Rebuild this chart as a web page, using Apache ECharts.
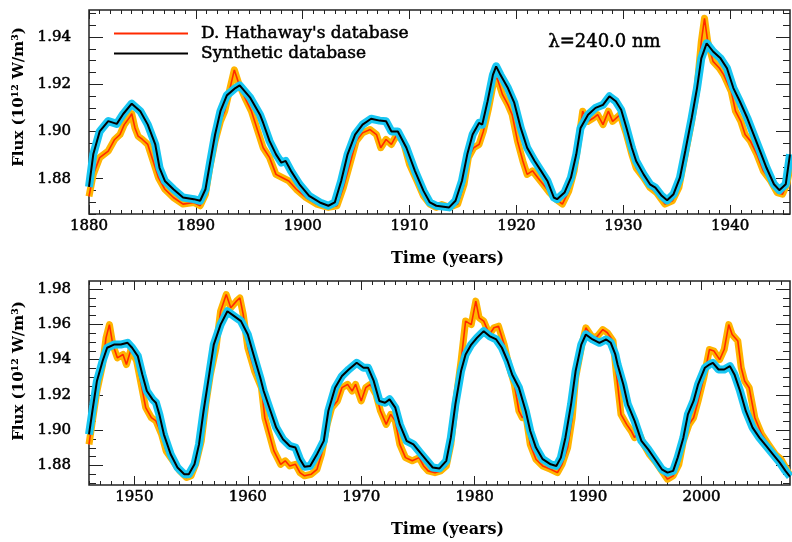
<!DOCTYPE html>
<html>
<head>
<meta charset="utf-8">
<script src="https://cdn.jsdelivr.net/npm/echarts@6/dist/echarts.min.js"></script>
<style>
  html, body { margin: 0; padding: 0; background: #fff; }
  #main { width: 792px; height: 542px; }
</style>
</head>
<body>
<div id="main"></div>
<script>
// ---- data ----
// top panel, D. Hathaway's database (red)
var hathTopT = [1880.0,1880.4,1881.0,1881.8,1882.4,1882.9,1883.3,1883.8,1884.0,1884.3,1884.6,1885.0,1885.5,1886.0,1886.5,1887.1,1887.9,1888.8,1889.8,1890.4,1890.9,1891.3,1891.8,1892.3,1892.7,1893.2,1893.6,1894.0,1894.6,1895.2,1895.9,1896.3,1896.9,1897.5,1898.1,1898.7,1899.4,1900.3,1901.3,1902.4,1903.2,1903.8,1904.4,1905.0,1905.6,1906.3,1906.9,1907.3,1907.8,1908.3,1908.8,1909.4,1910.0,1910.7,1911.3,1911.9,1912.5,1913.0,1913.7,1914.5,1915.1,1915.5,1916.0,1916.5,1916.9,1917.4,1917.9,1918.2,1918.7,1919.2,1919.6,1920.1,1920.6,1921.0,1921.5,1922.0,1922.5,1923.1,1923.7,1924.3,1924.9,1925.4,1925.9,1926.2,1926.7,1927.2,1927.6,1928.1,1928.6,1929.0,1929.7,1930.3,1930.8,1931.2,1931.9,1932.5,1933.1,1933.9,1934.6,1935.2,1935.8,1936.4,1936.9,1937.3,1937.6,1937.9,1938.4,1939.0,1939.4,1940.1,1940.5,1941.0,1941.4,1941.9,1942.5,1943.1,1943.8,1944.4,1944.9,1945.3,1945.6];
var hathTopF = [1.8725,1.8818,1.8889,1.8917,1.8966,1.8987,1.9029,1.9060,1.9075,1.9015,1.8980,1.8966,1.8945,1.8875,1.8804,1.8755,1.8720,1.8692,1.8699,1.8685,1.8734,1.8846,1.8959,1.9043,1.9086,1.9184,1.9261,1.9205,1.9142,1.9086,1.8987,1.8931,1.8889,1.8818,1.8804,1.8790,1.8755,1.8720,1.8692,1.8678,1.8685,1.8762,1.8860,1.8959,1.8994,1.9008,1.8987,1.8931,1.8966,1.8945,1.8987,1.8959,1.8860,1.8790,1.8727,1.8692,1.8678,1.8690,1.8678,1.8692,1.8776,1.8889,1.8931,1.8945,1.9000,1.9100,1.9219,1.9226,1.9156,1.9114,1.9071,1.8959,1.8875,1.8818,1.8833,1.8804,1.8776,1.8741,1.8713,1.8692,1.8748,1.8833,1.8987,1.9086,1.9043,1.9057,1.9071,1.9029,1.9086,1.9043,1.9071,1.8987,1.8903,1.8846,1.8804,1.8762,1.8741,1.8692,1.8706,1.8762,1.8903,1.9043,1.9184,1.9381,1.9480,1.9381,1.9297,1.9268,1.9240,1.9170,1.9086,1.9043,1.8987,1.8959,1.8903,1.8833,1.8790,1.8741,1.8734,1.8776,1.8846];
// top panel, synthetic database (black)
var synTopT = [1880.0,1880.4,1881.0,1881.8,1882.6,1883.2,1884.0,1884.8,1885.5,1886.2,1886.6,1887.1,1887.9,1888.8,1889.8,1890.4,1890.9,1891.3,1891.8,1892.3,1892.9,1893.7,1894.1,1895.1,1896.0,1896.3,1896.9,1897.5,1898.0,1898.4,1898.9,1899.7,1900.6,1901.6,1902.4,1903.0,1903.6,1904.2,1904.9,1905.6,1906.4,1907.2,1907.8,1908.3,1908.9,1909.7,1910.5,1911.3,1911.9,1912.5,1913.7,1914.3,1914.9,1915.4,1915.9,1916.5,1916.8,1917.3,1917.8,1918.1,1918.5,1919.2,1919.8,1920.4,1921.0,1921.7,1922.3,1922.9,1923.5,1923.8,1924.5,1925.1,1925.6,1926.0,1926.7,1927.4,1928.1,1928.7,1929.3,1929.8,1930.3,1930.8,1931.2,1931.9,1932.5,1933.0,1933.6,1934.1,1934.7,1935.3,1935.8,1936.4,1936.9,1937.3,1937.8,1938.4,1939.1,1939.7,1940.3,1940.9,1941.6,1942.2,1942.8,1943.4,1944.1,1944.6,1945.2,1945.6];
var synTopF = [1.8765,1.8903,1.9000,1.9044,1.9032,1.9074,1.9118,1.9086,1.9029,1.8945,1.8846,1.8790,1.8755,1.8720,1.8713,1.8706,1.8755,1.8860,1.8987,1.9086,1.9153,1.9184,1.9195,1.9142,1.9071,1.9036,1.8959,1.8903,1.8868,1.8875,1.8833,1.8776,1.8727,1.8699,1.8685,1.8699,1.8790,1.8903,1.8987,1.9029,1.9054,1.9046,1.9043,1.9000,1.9000,1.8931,1.8833,1.8748,1.8699,1.8685,1.8678,1.8706,1.8790,1.8903,1.8987,1.9036,1.9029,1.9128,1.9240,1.9276,1.9240,1.9184,1.9121,1.9015,1.8931,1.8875,1.8833,1.8790,1.8720,1.8713,1.8741,1.8804,1.8903,1.9015,1.9071,1.9100,1.9113,1.9149,1.9128,1.9092,1.9015,1.8931,1.8875,1.8818,1.8776,1.8762,1.8727,1.8708,1.8734,1.8804,1.8917,1.9057,1.9184,1.9310,1.9374,1.9339,1.9310,1.9268,1.9184,1.9128,1.9057,1.8987,1.8917,1.8846,1.8776,1.8751,1.8776,1.8903];
// bottom panel, D. Hathaway's database (red)
var hathBotT = [1946.0,1946.3,1946.7,1947.2,1947.5,1947.8,1948.1,1948.5,1949.0,1949.3,1949.7,1950.2,1950.6,1951.0,1951.5,1951.9,1952.4,1952.8,1953.4,1954.0,1954.6,1955.0,1955.4,1955.9,1956.3,1956.7,1957.2,1957.6,1958.1,1958.5,1959.0,1959.3,1959.6,1960.0,1960.6,1961.2,1961.5,1961.9,1962.3,1962.9,1963.3,1963.7,1964.2,1964.6,1965.0,1965.6,1966.1,1966.5,1967.0,1967.4,1967.9,1968.3,1968.8,1969.2,1969.5,1970.0,1970.4,1970.8,1971.3,1971.7,1972.2,1972.6,1973.0,1973.4,1973.9,1974.5,1975.1,1975.5,1975.9,1976.5,1977.0,1977.5,1977.9,1978.3,1978.8,1979.2,1979.7,1980.1,1980.4,1980.8,1981.3,1981.7,1982.1,1982.6,1983.0,1983.5,1983.9,1984.2,1984.5,1984.9,1985.4,1986.0,1986.7,1987.3,1987.7,1988.2,1988.6,1988.9,1989.4,1989.8,1990.3,1990.7,1991.3,1991.7,1992.2,1992.5,1992.9,1993.4,1993.8,1994.1,1994.4,1994.9,1995.4,1996.0,1996.6,1997.0,1997.5,1998.0,1998.4,1998.9,1999.3,1999.7,2000.2,2000.7,2001.1,2001.6,2002.0,2002.4,2002.7,2003.2,2003.5,2003.8,2004.2,2004.7,2005.3,2005.9,2006.5,2007.0,2007.5,2007.8];
var hathBotF = [1.8920,1.9053,1.9222,1.9372,1.9523,1.9598,1.9485,1.9410,1.9429,1.9372,1.9457,1.9392,1.9260,1.9128,1.9071,1.9053,1.8977,1.8883,1.8827,1.8770,1.8732,1.8742,1.8807,1.8940,1.9147,1.9316,1.9467,1.9674,1.9768,1.9693,1.9731,1.9749,1.9655,1.9467,1.9335,1.9241,1.9071,1.8977,1.8883,1.8807,1.8827,1.8798,1.8807,1.8760,1.8742,1.8751,1.8779,1.8864,1.9033,1.9128,1.9166,1.9241,1.9260,1.9222,1.9260,1.9166,1.9241,1.9260,1.9203,1.9109,1.9033,1.9090,1.9053,1.8920,1.8845,1.8827,1.8845,1.8798,1.8770,1.8760,1.8770,1.8798,1.8920,1.9147,1.9392,1.9618,1.9598,1.9731,1.9636,1.9618,1.9542,1.9580,1.9589,1.9485,1.9372,1.9260,1.9109,1.9071,1.9090,1.8920,1.8836,1.8798,1.8779,1.8760,1.8807,1.8902,1.9071,1.9297,1.9467,1.9580,1.9533,1.9523,1.9570,1.9552,1.9505,1.9316,1.9090,1.9033,1.8996,1.8958,1.8996,1.8920,1.8864,1.8817,1.8760,1.8723,1.8742,1.8807,1.8940,1.9033,1.9071,1.9166,1.9297,1.9457,1.9448,1.9400,1.9457,1.9598,1.9542,1.9505,1.9354,1.9279,1.9241,1.9071,1.8977,1.8920,1.8864,1.8836,1.8779,1.8742];
// bottom panel, synthetic database (black)
var synBotT = [1946.0,1946.3,1946.7,1947.2,1947.6,1948.2,1948.8,1949.4,1949.8,1950.3,1950.7,1951.1,1951.6,1951.9,1952.2,1952.6,1953.2,1953.8,1954.4,1954.8,1955.3,1955.7,1956.1,1956.6,1957.0,1957.6,1958.2,1958.8,1959.4,1960.0,1960.5,1961.1,1961.4,1962.0,1962.5,1963.1,1963.7,1964.2,1964.6,1965.0,1965.5,1966.1,1966.7,1967.1,1967.7,1968.3,1968.9,1969.6,1970.2,1970.6,1971.1,1971.6,1972.1,1972.5,1973.0,1973.4,1974.0,1974.6,1975.2,1975.8,1976.3,1976.9,1977.5,1977.9,1978.3,1978.8,1979.2,1979.7,1980.2,1980.8,1981.3,1981.9,1982.4,1982.9,1983.3,1983.9,1984.5,1984.9,1985.4,1986.0,1986.7,1987.2,1987.6,1988.0,1988.5,1988.9,1989.4,1989.8,1990.4,1991.0,1991.6,1992.0,1992.4,1992.6,1993.1,1993.5,1994.1,1994.7,1995.3,1995.9,1996.5,1997.0,1997.5,1997.9,1998.4,1998.8,1999.3,1999.7,2000.3,2000.7,2001.0,2001.5,2002.0,2002.5,2002.9,2003.4,2003.9,2004.5,2005.1,2005.7,2006.3,2006.9,2007.4,2007.8];
var synBotF = [1.8977,1.9109,1.9279,1.9392,1.9467,1.9485,1.9485,1.9495,1.9467,1.9420,1.9316,1.9222,1.9175,1.9156,1.9090,1.8977,1.8864,1.8789,1.8751,1.8751,1.8807,1.8920,1.9109,1.9316,1.9485,1.9598,1.9674,1.9646,1.9618,1.9542,1.9429,1.9297,1.9222,1.9109,1.9015,1.8949,1.8911,1.8902,1.8836,1.8793,1.8798,1.8864,1.8940,1.9109,1.9241,1.9307,1.9344,1.9382,1.9354,1.9354,1.9279,1.9166,1.9156,1.9175,1.9128,1.9033,1.8940,1.8920,1.8873,1.8827,1.8789,1.8784,1.8827,1.8958,1.9147,1.9335,1.9429,1.9485,1.9523,1.9561,1.9533,1.9514,1.9467,1.9392,1.9316,1.9241,1.9109,1.8996,1.8902,1.8836,1.8807,1.8798,1.8845,1.8958,1.9147,1.9335,1.9485,1.9542,1.9514,1.9495,1.9514,1.9495,1.9429,1.9372,1.9260,1.9147,1.9053,1.8940,1.8892,1.8836,1.8779,1.8760,1.8770,1.8845,1.8958,1.9090,1.9166,1.9260,1.9354,1.9372,1.9382,1.9344,1.9344,1.9363,1.9316,1.9222,1.9109,1.9015,1.8958,1.8911,1.8864,1.8817,1.8770,1.8738];

// axis ticks
var topXLabels = [1880, 1890, 1900, 1910, 1920, 1930, 1940];
var botXLabels = [1950, 1960, 1970, 1980, 1990, 2000];
var topYLabels = [1.88, 1.90, 1.92, 1.94];
var botYLabels = [1.88, 1.90, 1.92, 1.94, 1.96, 1.98];

var chartDom = document.getElementById('main');
var myChart = echarts.init(chartDom);
var option;

var FONT = 'DejaVu Serif';
var RED_NAME = "D. Hathaway's database";
var SYN_NAME = 'Synthetic database';
var YTITLE = 'Flux (10¹² W/m³)';

function zip(t, f) {
  var out = [];
  for (var i = 0; i < t.length; i++) out.push([t[i], f[i]]);
  return out;
}

function steps(a, b, d) {
  var out = [];
  for (var k = Math.ceil(a / d - 1e-6); k * d <= b + 1e-9; k++) out.push(+(k * d).toFixed(4));
  return out;
}

// heavier glyphs, like the IDL plot fonts
var ink = { textBorderColor: '#000', textBorderWidth: 0.5 };

function xAx(grid, pos, min, max, ticks, len, labels, name) {
  return {
    type: 'value', gridIndex: grid, position: pos, min: min, max: max,
    axisLine: { show: false },
    splitLine: { show: false },
    axisTick: { show: true, inside: true, length: len, customValues: ticks,
      lineStyle: { color: '#222', width: 1 } },
    axisLabel: labels ? Object.assign({ show: true, customValues: ticks, margin: 5,
      fontFamily: FONT, fontSize: 15, color: '#000',
      formatter: function (v) { return String(v); } }, ink) : { show: false },
    name: name || '',
    nameLocation: 'middle', nameGap: 37,
    nameTextStyle: { fontFamily: FONT, fontSize: 16, fontWeight: 'bold', color: '#000',
      padding: [0, 0, 0, 16] }
  };
}

function yAx(grid, pos, min, max, ticks, len, labels) {
  return {
    type: 'value', gridIndex: grid, position: pos, min: min, max: max,
    axisLine: { show: false },
    splitLine: { show: false },
    axisTick: { show: true, inside: true, length: len, customValues: ticks,
      lineStyle: { color: '#222', width: 1 } },
    axisLabel: labels ? Object.assign({ show: true, customValues: ticks, margin: 18,
      fontFamily: FONT, fontSize: 15, color: '#000',
      formatter: function (v) { return v.toFixed(2); } }, ink) : { show: false }
  };
}

var panels = [
  { xmin: 1880, xmax: 1945.6, ymin: 1.865, ymax: 1.9515, xl: topXLabels, yl: topYLabels,
    red: zip(hathTopT, hathTopF), syn: zip(synTopT, synTopF) },
  { xmin: 1946, xmax: 2007.8, ymin: 1.869, ymax: 1.9845, xl: botXLabels, yl: botYLabels,
    red: zip(hathBotT, hathBotF), syn: zip(synBotT, synBotF) }
];

var xAxes = [], yAxes = [], series = [];
panels.forEach(function (p, g) {
  var xMinor = steps(p.xmin, p.xmax, 1);
  var yMinor = steps(p.ymin, p.ymax, 0.005);
  var xi = xAxes.length, yi = yAxes.length;
  xAxes.push(xAx(g, 'bottom', p.xmin, p.xmax, p.xl, 9, true, 'Time (years)'));
  xAxes.push(xAx(g, 'bottom', p.xmin, p.xmax, xMinor, 4, false));
  xAxes.push(xAx(g, 'top', p.xmin, p.xmax, p.xl, 9, false));
  xAxes.push(xAx(g, 'top', p.xmin, p.xmax, xMinor, 4, false));
  yAxes.push(yAx(g, 'left', p.ymin, p.ymax, p.yl, 14, true));
  yAxes.push(yAx(g, 'left', p.ymin, p.ymax, yMinor, 7, false));
  yAxes.push(yAx(g, 'right', p.ymin, p.ymax, p.yl, 14, false));
  yAxes.push(yAx(g, 'right', p.ymin, p.ymax, yMinor, 7, false));

  var base = { type: 'line', xAxisIndex: xi, yAxisIndex: yi, symbol: 'none',
    silent: true, animation: false };
  series.push(Object.assign({}, base, { name: 'hath-band', data: p.red, z: 2,
    lineStyle: { color: '#ffb400', width: 7, join: 'round' } }));
  series.push(Object.assign({}, base, { name: RED_NAME, data: p.red, z: 3,
    itemStyle: { color: '#ff2a00' },
    lineStyle: { color: '#ff2a00', width: 1.6 } }));
  series.push(Object.assign({}, base, { name: 'syn-band', data: p.syn, z: 4,
    lineStyle: { color: '#18c6f2', width: 8, join: 'round' } }));
  series.push(Object.assign({}, base, { name: SYN_NAME, data: p.syn, z: 5,
    itemStyle: { color: '#000' },
    lineStyle: { color: '#000', width: 2 } }));
});

var titleStyle = { text: YTITLE, fontFamily: FONT, fontSize: 15, fontWeight: 'bold',
  fill: '#000', align: 'center', verticalAlign: 'middle' };

option = {
  backgroundColor: '#fff',
  animation: false,
  grid: [
    { left: 89, right: 2, top: 10, height: 204, show: true, borderColor: '#222', borderWidth: 1.5 },
    { left: 89, right: 2, top: 281, height: 204, show: true, borderColor: '#222', borderWidth: 1.5 }
  ],
  legend: {
    data: [RED_NAME, SYN_NAME],
    orient: 'vertical', left: 114, top: 24, padding: 0,
    icon: 'rect', itemWidth: 74, itemHeight: 2, itemGap: 1,
    textStyle: Object.assign({ fontFamily: FONT, fontSize: 17, color: '#000',
      lineHeight: 19, padding: [0, 0, 0, 8] }, ink),
    selectedMode: false
  },
  graphic: [
    { type: 'text', left: 548, top: 33,
      style: { text: 'λ=240.0 nm', fontFamily: FONT, fontSize: 18, fill: '#000',
        stroke: '#000', lineWidth: 0.5 } },
    { type: 'text', x: 19, y: 97, rotation: Math.PI / 2, style: titleStyle },
    { type: 'text', x: 19, y: 371, rotation: Math.PI / 2, style: titleStyle }
  ],
  xAxis: xAxes,
  yAxis: yAxes,
  series: series
};

myChart.setOption(option);
</script>
</body>
</html>
